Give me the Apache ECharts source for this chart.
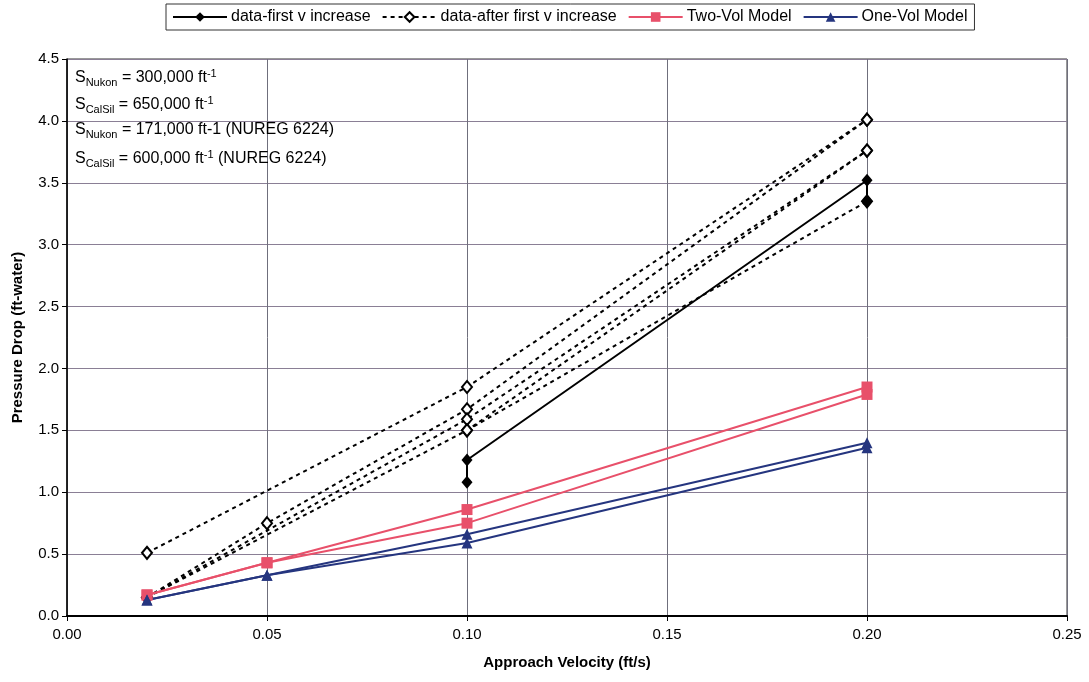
<!DOCTYPE html>
<html>
<head>
<meta charset="utf-8">
<script src="https://cdn.jsdelivr.net/npm/echarts@6/dist/echarts.min.js"></script>
<style>
html,body{margin:0;padding:0;background:#fff;}
#chart{width:1089px;height:682px;}
</style>
</head>
<body>
<div id="chart"></div>
<script>
// ---- data ----
const seriesNames = ['data-first v increase', 'data-after first v increase', 'Two-Vol Model', 'One-Vol Model'];

// solid black: first velocity increase
const firstVX = [0.10, 0.10, 0.20, 0.20];
const firstVY = [1.08, 1.26, 3.52, 3.35];

// dotted black: after first velocity increase (one list per test)
const afterT1 = [[0.02, 0.51], [0.10, 1.85], [0.20, 4.01]];
const afterT2 = [[0.02, 0.15], [0.05, 0.75], [0.10, 1.67], [0.20, 4.01]];
const afterT3 = [[0.02, 0.15], [0.10, 1.59], [0.20, 3.76]];
const afterT4 = [[0.02, 0.15], [0.10, 1.50], [0.20, 3.76]];
const afterT5 = [[0.10, 1.50], [0.20, 3.35]];

// models
const twoVolA = [[0.02, 0.17], [0.05, 0.43], [0.10, 0.86], [0.20, 1.85]];
const twoVolB = [[0.02, 0.17], [0.05, 0.43], [0.10, 0.75], [0.20, 1.79]];
const oneVolA = [[0.02, 0.13], [0.05, 0.33], [0.10, 0.66], [0.20, 1.40]];
const oneVolB = [[0.02, 0.13], [0.05, 0.33], [0.10, 0.59], [0.20, 1.36]];

// axes
const xMin = 0, xMax = 0.25, xStep = 0.05;
const yMin = 0, yMax = 4.5, yStep = 0.5;

// annotation lines
const noteLines = [
  ['Nukon', ' = 300,000 ft', '-1', ''],
  ['CalSil', ' = 650,000 ft', '-1', ''],
  ['Nukon', ' = 171,000 ft-1 (NUREG 6224)', '', ''],
  ['CalSil', ' = 600,000 ft', '-1', ' (NUREG 6224)']
];

// ---- chart ----
const FONT = '"Liberation Sans", Arial, sans-serif';
const RED = '#E8506A';
const BLUE = '#25357F';

const chart = echarts.init(document.getElementById('chart'), null, {renderer: 'canvas'});

function dotted(data) {
  return {
    type: 'line', name: seriesNames[1], data: data, z: 2,
    symbol: 'diamond', symbolSize: [10, 12],
    itemStyle: {color: '#fff', borderColor: '#000', borderWidth: 2},
    lineStyle: {color: '#000', width: 2, type: [4, 4]},
    animation: false
  };
}
function model(name, data, color, sym, size) {
  return {
    type: 'line', name: name, data: data, z: 4,
    symbol: sym, symbolSize: size,
    itemStyle: {color: color},
    lineStyle: {color: color, width: 2},
    animation: false
  };
}

const graphics = noteLines.map(function (ln, i) {
  let t = '{m|S}{s|' + ln[0] + '}{m|' + ln[1] + '}';
  if (ln[2]) t += '{p|' + ln[2] + '}';
  if (ln[3]) t += '{m|' + ln[3] + '}';
  return {
    type: 'text', left: 75, top: 68 + i * 27, z: 10,
    style: {
      text: t,
      rich: {
        m: {fontFamily: FONT, fontSize: 16, lineHeight: 20, fill: '#000', verticalAlign: 'middle'},
        s: {fontFamily: FONT, fontSize: 11, lineHeight: 12, fill: '#000', verticalAlign: 'bottom'},
        p: {fontFamily: FONT, fontSize: 11, lineHeight: 10, fill: '#000', verticalAlign: 'top'}
      }
    }
  };
});

chart.setOption({
  backgroundColor: '#fff',
  animation: false,
  textStyle: {fontFamily: FONT},
  grid: {left: 67, right: 22, top: 59, bottom: 66, show: true, borderColor: '#333', borderWidth: 1,
         backgroundColor: 'transparent', containLabel: false, outerBoundsMode: 'none'},
  legend: {
    data: seriesNames,
    left: 166, top: 4,
    padding: [5, 7, 5, 6],
    borderColor: '#333', borderWidth: 1,
    itemWidth: 54, itemHeight: 12, itemGap: 11,
    textStyle: {fontFamily: FONT, fontSize: 16, color: '#000', padding: [0, 0, 0, -1]}
  },
  xAxis: {
    type: 'value', min: xMin, max: xMax, interval: xStep,
    name: 'Approach Velocity (ft/s)', nameLocation: 'middle', nameGap: 39,
    nameTextStyle: {fontFamily: FONT, fontSize: 15, fontWeight: 'bold', color: '#000'},
    axisLine: {show: true, lineStyle: {color: '#000', width: 2}},
    axisTick: {show: true, length: 5, lineStyle: {color: '#000'}},
    axisLabel: {fontFamily: FONT, fontSize: 15, color: '#000', margin: 11, formatter: function (v) { return v.toFixed(2); }},
    splitLine: {show: true, lineStyle: {color: '#6f6f7c', width: 1}}
  },
  yAxis: {
    type: 'value', min: yMin, max: yMax, interval: yStep,
    name: 'Pressure Drop (ft-water)', nameLocation: 'middle', nameGap: 42,
    nameTextStyle: {fontFamily: FONT, fontSize: 15, fontWeight: 'bold', color: '#000'},
    axisLine: {show: true, lineStyle: {color: '#000', width: 1.5}},
    axisTick: {show: true, length: 5, lineStyle: {color: '#000'}},
    axisLabel: {fontFamily: FONT, fontSize: 15, color: '#000', margin: 8, formatter: function (v) { return v.toFixed(1); }},
    splitLine: {show: true, lineStyle: {color: '#8a7f95', width: 1}}
  },
  graphic: graphics,
  series: [
    {
      type: 'line', name: seriesNames[0], z: 3,
      data: firstVX.map(function (x, i) { return [x, firstVY[i]]; }),
      symbol: 'diamond', symbolSize: [11, 13],
      itemStyle: {color: '#000'},
      lineStyle: {color: '#000', width: 2},
      animation: false
    },
    dotted(afterT1), dotted(afterT2), dotted(afterT3), dotted(afterT4), dotted(afterT5),
    model(seriesNames[2], twoVolA, RED, 'rect', 11),
    model(seriesNames[2], twoVolB, RED, 'rect', 11),
    model(seriesNames[3], oneVolA, BLUE, 'triangle', 11),
    model(seriesNames[3], oneVolB, BLUE, 'triangle', 11)
  ]
});
</script>
</body>
</html>
